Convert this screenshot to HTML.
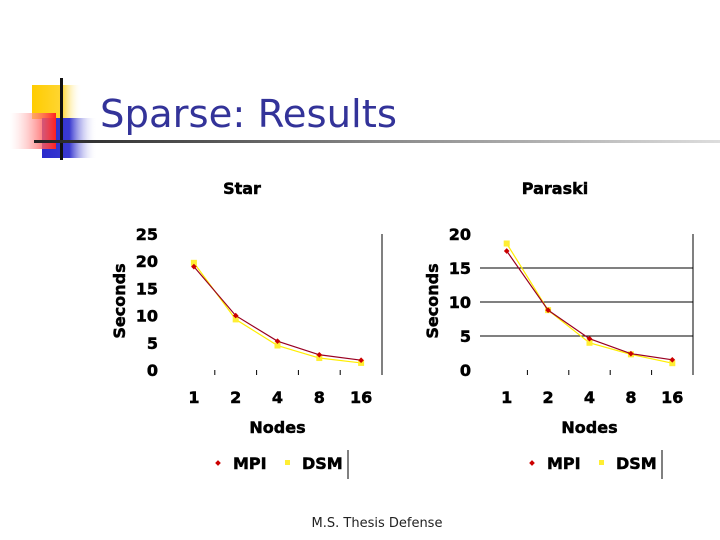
<!DOCTYPE html>
<html><head><meta charset="utf-8"><style>
html,body{margin:0;padding:0;background:#fff;width:720px;height:540px;overflow:hidden}
svg{display:block}
text{font-family:"DejaVu Sans","Liberation Sans",sans-serif}
.b{font-weight:bold;font-size:16px;fill:#000;stroke:#000;stroke-width:0.5}
</style></head><body>
<svg id="s" width="720" height="540" viewBox="0 0 720 540">
<defs>
<linearGradient id="gy" x1="0" x2="1"><stop offset="0" stop-color="#ffcc00"/><stop offset="0.6" stop-color="#ffd633"/><stop offset="1" stop-color="#fff" stop-opacity="0"/></linearGradient>
<linearGradient id="gr" x1="0" x2="1"><stop offset="0" stop-color="#fff" stop-opacity="0.3"/><stop offset="1" stop-color="#ff2020"/></linearGradient>
<linearGradient id="gb" x1="0" x2="1"><stop offset="0" stop-color="#2a2acc"/><stop offset="0.5" stop-color="#3a3ad0"/><stop offset="1" stop-color="#fff" stop-opacity="0"/></linearGradient>
<linearGradient id="gl" x1="0" x2="1"><stop offset="0" stop-color="#222"/><stop offset="0.5" stop-color="#888"/><stop offset="1" stop-color="#ddd"/></linearGradient>
</defs>
<g>
<rect x="32" y="85" width="50" height="34" fill="url(#gy)"/>
<rect x="42" y="118" width="55" height="40" fill="url(#gb)"/>
<rect x="10" y="113" width="46" height="36" fill="url(#gr)"/>
<rect x="60" y="78" width="3" height="82" fill="#111"/>
<rect x="34" y="140" width="686" height="3" fill="url(#gl)"/>
</g>
<text x="100" y="127" font-size="38" fill="#333399" textLength="297" lengthAdjust="spacingAndGlyphs">Sparse: Results</text>
<text x="377" y="527" font-size="13" text-anchor="middle" fill="#222">M.S. Thesis Defense</text>
<g id="c1"></g>
<g id="c2"></g>
</svg>
<script>
const categories = ["1","2","4","8","16"];
const starMPI = [19, 10, 5.3, 2.8, 1.8];
const starDSM = [19.7, 9.3, 4.5, 2.2, 1.3];
const starTicks = [0,5,10,15,20,25];
const paraskiMPI = [17.5, 8.8, 4.6, 2.4, 1.5];
const paraskiDSM = [18.6, 8.8, 4.0, 2.3, 1.0];
const paraskiTicks = [0,5,10,15,20];
const NS="http://www.w3.org/2000/svg";
function mk(p,t,a,txt){const e=document.createElementNS(NS,t);for(const k in a)e.setAttribute(k,a[k]);if(txt!==undefined)e.textContent=txt;p.appendChild(e);return e;}
function chart(g,cfg){
  const x0=cfg.x0,x1=cfg.x1,yb=370,yt=234,max=cfg.ticks[cfg.ticks.length-1];
  const Y=v=>yb-(v/max)*(yb-yt);
  const bw=(x1-x0)/categories.length;
  const X=i=>x0+bw*(i+0.5);
  const t=mk(g,"text",{x:cfg.tx,y:194,"text-anchor":"middle",class:"b","font-size":"19"},cfg.title);
  
  
  cfg.ticks.forEach(v=>{
    if(cfg.grid && v>0 && v<max){const l=mk(g,"line",{x1:x0-6,x2:x1,y1:Y(v),y2:Y(v),stroke:"#000","stroke-width":1});
      
      }
    const e=mk(g,"text",{x:x0-15,y:Y(v)+6,"text-anchor":"end",class:"b"},String(v));
    
    
  });
  const rb=mk(g,"line",{x1:x1,x2:x1,y1:yt,y2:yb+5,stroke:"#000","stroke-width":1});
  
  
  for(let i=1;i<categories.length;i++){const tk=mk(g,"line",{x1:x0+bw*i,x2:x0+bw*i,y1:yb,y2:yb+5,stroke:"#000"});
    
    }
  categories.forEach((c,i)=>{const e=mk(g,"text",{x:X(i),y:403,"text-anchor":"middle",class:"b"},c);
    
    });
  const xl=mk(g,"text",{x:(x0+x1)/2,y:433,"text-anchor":"middle",class:"b","font-size":"17"},"Nodes");
  
  
  const yl=mk(g,"text",{x:0,y:0,"text-anchor":"middle",class:"b","font-size":"17",transform:`translate(${cfg.ylx},${(yt+yb)/2-1}) rotate(-90)`},"Seconds");
  
  
  const ser=[[cfg.dsm,"#ffee00","#ffee33",5,"dsm"],[cfg.mpi,"#990022","#cc0000",3,"mpi"]];
  ser.forEach(([d,lc,mc,ms,n])=>{
    const pl=mk(g,"polyline",{points:d.map((v,i)=>X(i)+","+Y(v)).join(" "),fill:"none",stroke:lc,"stroke-width":1.2});
    
    
    d.forEach((v,i)=>{
      let m;
      if(n==="mpi"){m=mk(g,"rect",{x:X(i)-2,y:Y(v)-2,width:4,height:4,fill:mc,transform:`rotate(45 ${X(i)} ${Y(v)})`});}
      else{m=mk(g,"rect",{x:X(i)-3,y:Y(v)-3,width:6,height:6,fill:mc});}
      
      
    });
  });
  const lg=mk(g,"g",{});
  
  
  const lx=cfg.lx;
  mk(lg,"rect",{x:lx-2,y:461,width:4,height:4,fill:"#cc0000",transform:`rotate(45 ${lx} 463)`});
  const a=mk(lg,"text",{x:lx+15,y:469,class:"b"},"MPI");
  
  
  mk(lg,"rect",{x:lx+67,y:460,width:5,height:5,fill:"#ffee33"});
  const b=mk(lg,"text",{x:lx+84,y:469,class:"b"},"DSM");
  
  
  mk(lg,"line",{x1:lx+130,x2:lx+130,y1:450,y2:479,stroke:"#000"});
}
chart(document.getElementById("c1"),{x0:173,x1:382,ticks:starTicks,mpi:starMPI,dsm:starDSM,title:"Star",tx:242,ylx:125,grid:false,lx:218});
chart(document.getElementById("c2"),{x0:486,x1:693,ticks:paraskiTicks,mpi:paraskiMPI,dsm:paraskiDSM,title:"Paraski",tx:555,ylx:438,grid:true,lx:532});
</script>
</body></html>
